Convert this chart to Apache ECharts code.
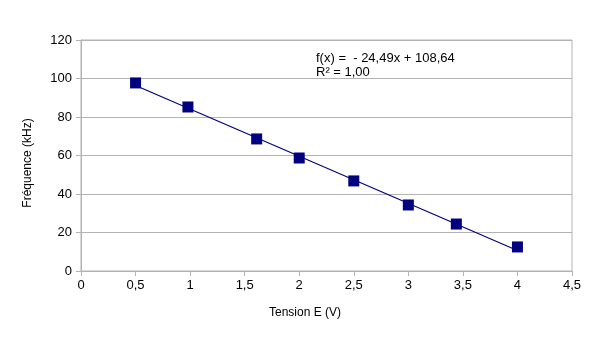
<!DOCTYPE html>
<html>
<head>
<meta charset="utf-8">
<script src="https://cdn.jsdelivr.net/npm/echarts@6/dist/echarts.min.js"></script>
<style>
  html, body { margin: 0; padding: 0; background: #fff; }
  #chart { width: 605px; height: 339px; }
</style>
</head>
<body>
<div id="chart"></div>
<script>
// Measured points: voltage E (V) and frequency (kHz)
const tension = [0.5, 0.98, 1.61, 2.0, 2.5, 3.0, 3.44, 4.0];
const frequence = [97.7, 85.2, 68.6, 58.7, 46.8, 34.3, 24.4, 12.5];

// Linear regression shown in the equation label
const slope = -24.49;
const intercept = 108.64;
const fitRange = [0.5, 4.0];

const xTicks = [0, 0.5, 1, 1.5, 2, 2.5, 3, 3.5, 4, 4.5];
const yTicks = [0, 20, 40, 60, 80, 100, 120];

const fitLine = fitRange.map(x => [x, slope * x + intercept]);
const fmt = v => String(v).replace('.', ',');

const FONT = 'Liberation Sans, Arial, sans-serif';
const GRID = '#b3b3b3';

const chart = echarts.init(document.getElementById('chart'), null, { renderer: 'canvas' });
chart.setOption({
  animation: false,
  backgroundColor: '#ffffff',
  grid: {
    left: 81, right: 33, top: 40, bottom: 68,
    show: true, borderColor: GRID, borderWidth: 1, backgroundColor: 'transparent'
  },
  xAxis: {
    type: 'value',
    min: xTicks[0], max: xTicks[xTicks.length - 1], interval: 0.5,
    axisLine: { show: true, lineStyle: { color: GRID } },
    axisTick: { show: true, length: 5, lineStyle: { color: GRID } },
    splitLine: { show: false },
    axisLabel: { color: '#000', fontFamily: FONT, fontSize: 13, margin: 8, formatter: fmt }
  },
  yAxis: {
    type: 'value',
    min: yTicks[0], max: yTicks[yTicks.length - 1], interval: 20,
    axisLine: { show: true, lineStyle: { color: GRID } },
    axisTick: { show: true, length: 5, lineStyle: { color: GRID } },
    splitLine: { show: true, lineStyle: { color: GRID } },
    axisLabel: { color: '#000', fontFamily: FONT, fontSize: 13, margin: 9, formatter: fmt }
  },
  graphic: [
    {
      type: 'text', x: 305, y: 313,
      style: { text: 'Tension E (V)', font: '12px ' + FONT, fill: '#000', textAlign: 'center', textVerticalAlign: 'middle' }
    },
    {
      type: 'text', x: 28, y: 163, rotation: Math.PI / 2,
      style: { text: 'Fréquence (kHz)', font: '12px ' + FONT, fill: '#000', textAlign: 'center', textVerticalAlign: 'middle' }
    },
    {
      type: 'text', left: 316, top: 51,
      style: {
        text: 'f(x) =  - ' + fmt(Math.abs(slope).toFixed(2)) + 'x + ' + fmt(intercept.toFixed(2)) + '\nR² = 1,00',
        font: '13px ' + FONT, fill: '#000', lineHeight: 14
      }
    }
  ],
  series: [
    {
      type: 'line',
      data: fitLine,
      symbol: 'none',
      lineStyle: { color: '#000080', width: 1.2 },
      z: 2
    },
    {
      type: 'scatter',
      data: tension.map((x, i) => [x, frequence[i]]),
      symbol: 'rect',
      symbolSize: 11,
      itemStyle: { color: '#000080', opacity: 1 },
      z: 3
    }
  ]
});
</script>
</body>
</html>
